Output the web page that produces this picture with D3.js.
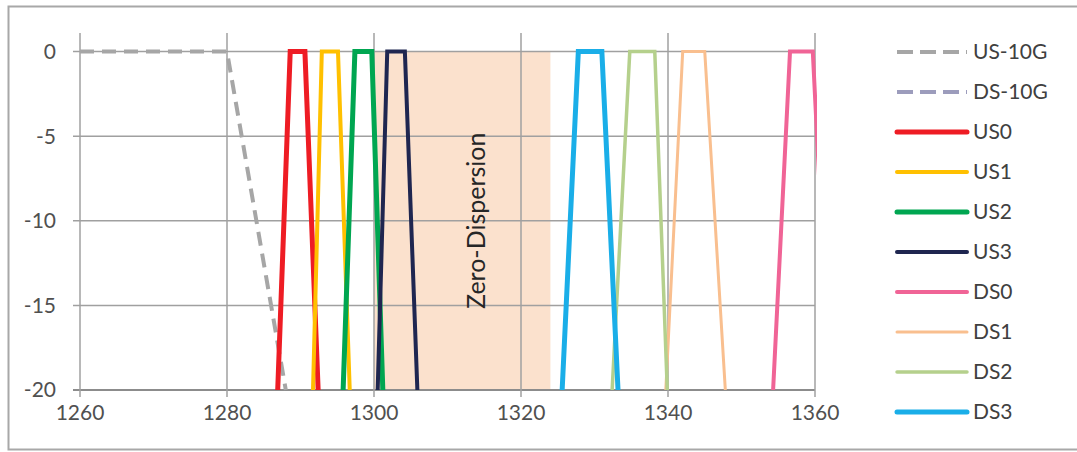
<!DOCTYPE html>
<html>
<head>
<meta charset="utf-8">
<title>Filter plan</title>
<style>
  body { margin: 0; background: #fff; }
  svg text { font-family: Lato, "Open Sans", sans-serif; }
</style>
</head>
<body>
<div id="chart"></div>
<script src="https://d3js.org/d3.v7.min.js"></script>
<script>
// wavelength (nm) corner points of each filter, levels in dB
var level = [-20, 0, 0, -20];
var us10gX = [1260, 1280, 1288];
var us10gY = [0, 0, -20];
var ds10gX = [1570, 1575, 1581, 1586];
var us0X = [1286.9, 1288.6, 1290.6, 1292.4];
var us1X = [1291.7, 1292.9, 1295.1, 1296.7];
var us2X = [1295.8, 1297.4, 1299.7, 1301.2];
var us3X = [1300.5, 1301.8, 1304.2, 1305.9];
var ds0X = [1354.3, 1356.6, 1359.7, 1362.0];
var ds1X = [1339.7, 1342.0, 1345.0, 1347.8];
var ds2X = [1332.4, 1334.8, 1338.2, 1339.9];
var ds3X = [1325.6, 1327.8, 1331.0, 1333.2];
var zeroDispersion = [1300, 1324];
var xTicks = [1260, 1280, 1300, 1320, 1340, 1360];
var yTicks = [0, -5, -10, -15, -20];

var series = [
  { name: 'US-10G', x: us10gX, y: us10gY, color: '#a6a6a6', w: 4, dash: '14,8' },
  { name: 'DS-10G', x: ds10gX, y: level, color: '#9c9cbc', w: 4, dash: '14,8' },
  { name: 'US0', x: us0X, y: level, color: '#ee1c24', w: 5 },
  { name: 'US1', x: us1X, y: level, color: '#ffc000', w: 4 },
  { name: 'US2', x: us2X, y: level, color: '#00a651', w: 5 },
  { name: 'US3', x: us3X, y: level, color: '#1f2650', w: 4 },
  { name: 'DS0', x: ds0X, y: level, color: '#f06496', w: 4 },
  { name: 'DS1', x: ds1X, y: level, color: '#f9bf8f', w: 3 },
  { name: 'DS2', x: ds2X, y: level, color: '#b5d08c', w: 3.5 },
  { name: 'DS3', x: ds3X, y: level, color: '#1aaee8', w: 5 }
];

var W = 1077, H = 452;
var svg = d3.select('#chart').append('svg')
    .attr('width', W).attr('height', H);

// outer frame
svg.append('rect')
    .attr('x', 8.5).attr('y', 6.5)
    .attr('width', 1080).attr('height', 443)
    .attr('fill', '#fff')
    .attr('stroke', '#a8a8a8').attr('stroke-width', 2);

var x = d3.scaleLinear().domain([1260, 1360]).range([80, 815]);
var y = d3.scaleLinear().domain([-20, 1.1]).range([390, 33]);

svg.append('defs').append('clipPath').attr('id', 'plot')
  .append('rect')
    .attr('x', 78).attr('y', 30)
    .attr('width', 739).attr('height', 361);

// zero dispersion band
svg.append('rect')
    .attr('x', x(zeroDispersion[0]))
    .attr('y', y(0))
    .attr('width', x(zeroDispersion[1]) - x(zeroDispersion[0]))
    .attr('height', y(-20) - y(0))
    .attr('fill', '#fbe1cd');

// gridlines
svg.append('g').selectAll('line')
    .data(yTicks)
  .enter().append('line')
    .attr('x1', 73).attr('x2', 815)
    .attr('y1', function(d) { return y(d); })
    .attr('y2', function(d) { return y(d); })
    .attr('stroke', function(d) { return d === -20 ? '#8c8c8c' : '#a0a0a0'; })
    .attr('stroke-width', function(d) { return d === -20 ? 2 : 1.5; });

svg.append('g').selectAll('line')
    .data(xTicks)
  .enter().append('line')
    .attr('x1', function(d) { return x(d); })
    .attr('x2', function(d) { return x(d); })
    .attr('y1', 33).attr('y2', 397)
    .attr('stroke', '#a0a0a0')
    .attr('stroke-width', 1.5);

// tick labels
svg.append('g').selectAll('text')
    .data(yTicks)
  .enter().append('text')
    .attr('x', 56)
    .attr('y', function(d) { return y(d); })
    .attr('dy', '0.35em')
    .attr('text-anchor', 'end')
    .attr('font-size', 21)
    .attr('fill', '#505050')
    .text(function(d) { return d; });

svg.append('g').selectAll('text')
    .data(xTicks)
  .enter().append('text')
    .attr('x', function(d) { return x(d); })
    .attr('y', 420)
    .attr('text-anchor', 'middle')
    .attr('font-size', 21)
    .attr('fill', '#505050')
    .text(function(d) { return d; });

// zero dispersion label
svg.append('text')
    .attr('transform', 'translate(' + (x(1314) + 8) + ',' + y(-10) + ') rotate(-90)')
    .attr('text-anchor', 'middle')
    .attr('font-size', 25)
    .attr('fill', '#262626')
    .text('Zero-Dispersion');

// filter curves
var line = d3.line()
    .x(function(d) { return x(d[0]); })
    .y(function(d) { return y(d[1]); });

svg.append('g').attr('clip-path', 'url(#plot)')
  .selectAll('path')
    .data(series)
  .enter().append('path')
    .attr('d', function(s) { return line(d3.zip(s.x, s.y)); })
    .attr('fill', 'none')
    .attr('stroke', function(s) { return s.color; })
    .attr('stroke-width', function(s) { return s.w; })
    .attr('stroke-dasharray', function(s) { return s.dash || null; })
    .attr('stroke-linejoin', 'miter');

// legend
var lg = svg.append('g').selectAll('g')
    .data(series)
  .enter().append('g')
    .attr('transform', function(d, i) { return 'translate(897,' + (52 + i * 40) + ')'; });

lg.append('line')
    .attr('x1', 0).attr('x2', 70)
    .attr('stroke', function(s) { return s.color; })
    .attr('stroke-width', function(s) { return s.w; })
    .attr('stroke-dasharray', function(s) { return s.dash ? '16,7' : null; })
    .attr('stroke-linecap', function(s) { return s.dash ? 'butt' : 'round'; });

lg.append('text')
    .attr('x', 76)
    .attr('dy', '0.35em')
    .attr('font-size', 21)
    .attr('fill', '#404040')
    .text(function(s) { return s.name; });
</script>
</body>
</html>
